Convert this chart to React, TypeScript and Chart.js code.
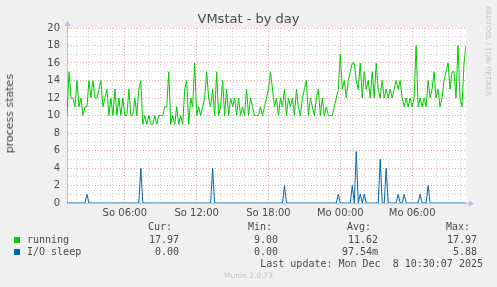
import { useEffect, useRef } from 'react';
import { Chart, registerables } from 'chart.js';

Chart.register(...registerables);

// time axis in minutes since Saturday 00:00 (Mo 00:00 = 2880)
const START_MIN = 1510;
const STEP_MIN = 10;
const END_MIN = 3510;

const X_MAJOR_TICKS = [1800, 2160, 2520, 2880, 3240];
const X_MAJOR_LABELS = ['So 06:00', 'So 12:00', 'So 18:00', 'Mo 00:00', 'Mo 06:00'];

const RUNNING = [
  10, 15, 12, 12, 11, 14, 11, 12, 10, 11,
  11, 14, 12, 14, 12, 12, 13, 14, 11, 12,
  13, 10, 12, 10, 13, 10, 12, 10, 12, 10,
  10, 13, 10, 10, 12, 10, 13, 14, 9, 10,
  9, 10, 9, 9, 10, 9, 10, 10, 10, 11,
  11, 15, 9, 10, 9, 11, 9, 10, 9, 13,
  14, 9, 12, 11, 16, 10, 11, 10, 11, 12,
  15, 12, 11, 13, 10, 15, 10, 11, 14, 10,
  13, 10, 12, 11, 12, 10, 12, 10, 11, 10,
  13, 10, 12, 11, 10, 10, 10, 11, 10, 11,
  12, 13, 15, 13, 11, 12, 10, 12, 11, 13,
  10, 12, 11, 12, 10, 13, 11, 10, 12, 13,
  14, 10, 12, 11, 10, 12, 13, 10, 12, 10,
  11, 10, 10, 10, 11, 12, 13, 17, 13, 14,
  12, 14, 15, 16, 16, 14, 13, 16, 12, 15,
  13, 14, 12, 15, 12, 16, 13, 12, 14, 12,
  13, 12, 13, 12, 13, 14, 13, 14, 12, 11,
  12, 11, 12, 11, 12, 18, 11, 12, 11, 12,
  11, 14, 12, 13, 15, 12, 13, 11, 12, 14,
  15, 16, 13, 15, 15, 12, 18, 12, 11, 16,
  17.97,
];

const IO_SLEEP = [
  0, 0, 0, 0, 0, 0, 0, 0, 0, 0,
  1, 0, 0, 0, 0, 0, 0, 0, 0, 0,
  0, 0, 0, 0, 0, 0, 0, 0, 0, 0,
  0, 0, 0, 0, 0, 0, 0, 4, 0, 0,
  0, 0, 0, 0, 0, 0, 0, 0, 0, 0,
  0, 0, 0, 0, 0, 0, 0, 0, 0, 0,
  0, 0, 0, 0, 0, 0, 0, 0, 0, 0,
  0, 0, 0, 4, 0, 0, 0, 0, 0, 0,
  0, 0, 0, 0, 0, 0, 0, 0, 0, 0,
  0, 0, 0, 0, 0, 0, 0, 0, 0, 0,
  0, 0, 0, 0, 0, 0, 0, 0, 0, 2,
  0, 0, 0, 0, 0, 0, 0, 0, 0, 0,
  0, 0, 0, 0, 0, 0, 0, 0, 0, 0,
  0, 0, 0, 0, 0, 0, 1, 0, 0, 0,
  0, 0, 0, 2, 0, 5.88, 0, 1, 0, 1,
  0, 0, 0, 0, 0, 0, 0, 5, 0, 0,
  4, 0, 0, 0, 0, 0, 1, 0, 0, 1,
  0, 0, 0, 0, 0, 0, 0, 1, 0, 0,
  0, 2, 0, 0, 0, 0, 0, 0, 0, 0,
  0, 0, 0, 0, 0, 0, 0, 0, 0, 0,
  0,
];

const LEGEND_HEADERS = ['Cur:', 'Min:', 'Avg:', 'Max:'];
const RUNNING_STATS = ['17.97', '9.00', '11.62', '17.97'];
const IO_STATS = ['0.00', '0.00', '97.54m', '5.88'];

const FONT = '"DejaVu Sans", sans-serif';
const MONO = '"DejaVu Sans Mono", monospace';
const TEXT = '#4a4a4a';
const MAJOR_GRID = 'rgba(225,130,130,0.7)';
const MINOR_GRID = 'rgba(175,175,175,0.6)';
const AXIS = 'rgb(185,190,235)';

const bgPlugin = {
  id: 'muninBg',
  beforeDraw(chart: any) {
    const { ctx, chartArea: a } = chart;
    ctx.save();
    ctx.fillStyle = '#f0f0f0';
    ctx.fillRect(0, 0, chart.width, chart.height);
    ctx.fillStyle = '#ffffff';
    ctx.fillRect(a.left, a.top, a.right - a.left, a.bottom - a.top);
    ctx.restore();
  },
  afterDraw(chart: any) {
    const { ctx, chartArea: a } = chart;
    ctx.save();
    ctx.fillStyle = AXIS;
    ctx.strokeStyle = AXIS;
    ctx.lineWidth = 1;
    ctx.beginPath();
    ctx.moveTo(a.left + 0.5, a.top);
    ctx.lineTo(a.left + 0.5, a.top - 3);
    ctx.stroke();
    ctx.beginPath();
    ctx.moveTo(a.left + 0.5, a.top - 7);
    ctx.lineTo(a.left - 2.5, a.top - 2);
    ctx.lineTo(a.left + 3.5, a.top - 2);
    ctx.closePath();
    ctx.fill();
    ctx.beginPath();
    ctx.moveTo(a.right, a.bottom + 0.5);
    ctx.lineTo(a.right + 3, a.bottom + 0.5);
    ctx.stroke();
    ctx.beginPath();
    ctx.moveTo(a.right + 8, a.bottom + 0.5);
    ctx.lineTo(a.right + 3, a.bottom - 2.5);
    ctx.lineTo(a.right + 3, a.bottom + 3.5);
    ctx.closePath();
    ctx.fill();
    ctx.restore();
  },
};

export default function App() {
  const ref = useRef<HTMLCanvasElement>(null);

  useEffect(() => {
    const canvas = ref.current;
    if (!canvas) return;
    const toPoints = (arr: number[]) => arr.map((v, i) => ({ x: START_MIN + i * STEP_MIN, y: v }));
    const chart = new Chart(canvas, {
      type: 'line',
      data: {
        datasets: [
          {
            label: 'running',
            data: toPoints(RUNNING),
            borderColor: '#00cc00',
            borderWidth: 1,
            pointRadius: 0,
            tension: 0,
            fill: false,
          },
          {
            label: 'I/O sleep',
            data: toPoints(IO_SLEEP),
            borderColor: '#0066b3',
            borderWidth: 1,
            pointRadius: 0,
            tension: 0,
            fill: false,
          },
        ],
      },
      options: {
        animation: false,
        responsive: false,
        devicePixelRatio: 1,
        layout: { padding: { left: 0, top: 28, right: 31, bottom: 64 } },
        plugins: { legend: { display: false }, tooltip: { enabled: false }, title: { display: false } },
        scales: {
          x: {
            type: 'linear',
            min: START_MIN,
            max: END_MIN,
            afterFit: (s: any) => { s.height = 20; },
            afterBuildTicks: (s: any) => {
              const ticks: { value: number }[] = [];
              for (let m = Math.ceil(START_MIN / 60) * 60; m < END_MIN; m += 60) ticks.push({ value: m });
              s.ticks = ticks;
            },
            ticks: {
              autoSkip: false,
              maxRotation: 0,
              padding: 4,
              color: TEXT,
              font: { family: FONT, size: 10 },
              callback: (v: any) => {
                const idx = X_MAJOR_TICKS.indexOf(Number(v));
                return idx >= 0 ? X_MAJOR_LABELS[idx] : '';
              },
            },
            grid: {
              drawTicks: false,
              lineWidth: 1,
              color: (c: any) => (c.tick && X_MAJOR_TICKS.includes(c.tick.value) ? MAJOR_GRID : MINOR_GRID),
            },
            border: { display: true, color: AXIS, dash: [1, 2] },
          },
          y: {
            min: 0,
            max: 20,
            afterFit: (s: any) => { s.width = 67; },
            ticks: {
              stepSize: 1,
              autoSkip: false,
              padding: 7,
              color: TEXT,
              font: { family: FONT, size: 10 },
              callback: (v: any) => (Number(v) % 2 === 0 ? String(v) : ''),
            },
            grid: {
              drawTicks: false,
              lineWidth: 1,
              color: (c: any) => (c.tick && c.tick.value === 0 ? 'rgba(0,0,0,0)' : c.tick && c.tick.value % 2 === 0 ? MAJOR_GRID : MINOR_GRID),
            },
            border: { display: true, color: AXIS, dash: [1, 2] },
          },
        },
      },
      plugins: [bgPlugin],
    } as any);
    return () => chart.destroy();
  }, []);

  const colEnds = [179, 278, 378, 477];
  const headerEnds = [172, 272, 371, 470];

  const abs = (extra: any) => ({ position: 'absolute' as const, whiteSpace: 'pre' as const, margin: 0, ...extra });

  return (
    <div style={{ position: 'fixed', left: 0, top: 0, width: 497, height: 287, background: '#f0f0f0', overflow: 'hidden' }}>
      <canvas ref={ref} width={497} height={287} style={{ position: 'absolute', left: 0, top: 0, width: 497, height: 287 }} />
      <div style={abs({ left: 0, top: 11, width: 497, textAlign: 'center', fontFamily: FONT, fontSize: 13, lineHeight: '16px', color: TEXT })}>
        VMstat - by day
      </div>
      <div style={abs({ left: 3, top: 74, fontFamily: FONT, fontSize: 11, lineHeight: '14px', color: TEXT, writingMode: 'vertical-rl', transform: 'rotate(180deg)' })}>
        process states
      </div>
      <div style={abs({ left: 484, top: 6, fontFamily: FONT, fontSize: 7, lineHeight: '8px', color: '#c4c4c4', writingMode: 'vertical-rl' })}>
        RRDTOOL / TOBI OETIKER
      </div>
      {LEGEND_HEADERS.map((h, i) => (
        <div key={h} style={abs({ right: 497 - headerEnds[i], top: 221, fontFamily: MONO, fontSize: 10, lineHeight: '12px', color: TEXT })}>{h}</div>
      ))}
      <div style={abs({ left: 14, top: 237, width: 6, height: 6, background: '#00cc00' })} />
      <div style={abs({ left: 27, top: 234, fontFamily: MONO, fontSize: 10, lineHeight: '12px', color: TEXT })}>running</div>
      {RUNNING_STATS.map((s, i) => (
        <div key={'r' + i} style={abs({ right: 497 - colEnds[i], top: 234, fontFamily: MONO, fontSize: 10, lineHeight: '12px', color: TEXT })}>{s}</div>
      ))}
      <div style={abs({ left: 14, top: 249, width: 6, height: 6, background: '#0066b3' })} />
      <div style={abs({ left: 27, top: 246, fontFamily: MONO, fontSize: 10, lineHeight: '12px', color: TEXT })}>I/O sleep</div>
      {IO_STATS.map((s, i) => (
        <div key={'o' + i} style={abs({ right: 497 - colEnds[i], top: 246, fontFamily: MONO, fontSize: 10, lineHeight: '12px', color: TEXT })}>{s}</div>
      ))}
      <div style={abs({ right: 497 - 483, top: 258, fontFamily: MONO, fontSize: 10, lineHeight: '12px', color: TEXT })}>
        Last update: Mon Dec  8 10:30:07 2025
      </div>
      <div style={abs({ left: 0, top: 271, width: 497, textAlign: 'center', fontFamily: FONT, fontSize: 7.5, lineHeight: '10px', color: '#c4c4c4' })}>
        Munin 2.0.73
      </div>
    </div>
  );
}
